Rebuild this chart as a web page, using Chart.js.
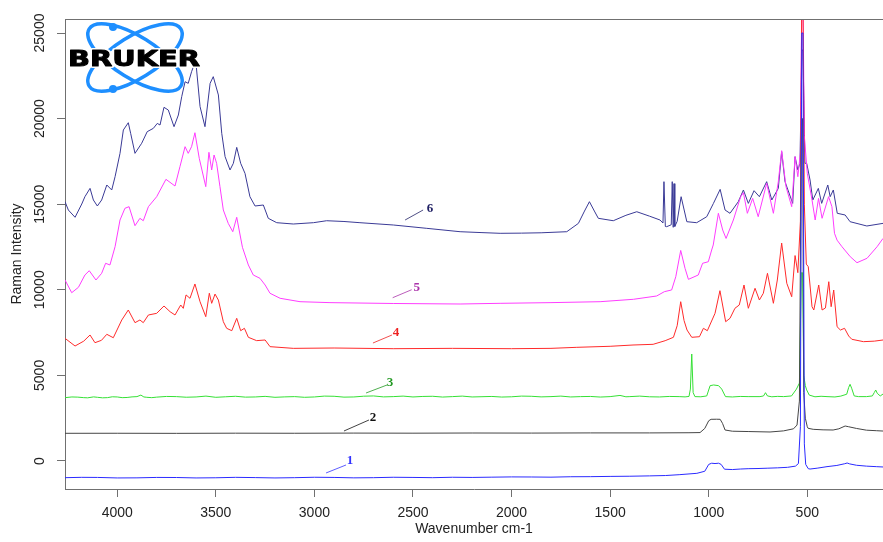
<!DOCTYPE html>
<html>
<head>
<meta charset="utf-8">
<script src="https://cdn.jsdelivr.net/npm/chart.js@4"></script>
<style>
  body { margin: 0; background: #fff; }
  #wrap { width: 883px; height: 542px; }
</style>
</head>
<body>
<div id="wrap"><canvas id="raman" width="883" height="542"></canvas></div>
<script>
// tick labels
var xTicks = [4000, 3500, 3000, 2500, 2000, 1500, 1000, 500];
var yTicks = [0, 5000, 10000, 15000, 20000, 25000];
var seriesNames = ["1", "2", "3", "4", "5", "6"];
var seriesColors = ["#2a2aff", "#454545", "#35e035", "#ff2a2a", "#ff3cff", "#3a3a96"];

// spectra as [wavenumber, intensity]
var spec1 = [[4265,-975],[4180,-955],[4100,-960],[4000,-990],[3900,-985],[3800,-960],[3700,-965],[3600,-990],
  [3500,-980],[3400,-955],[3300,-970],[3200,-990],[3100,-975],[3000,-950],[2900,-960],[2800,-985],
  [2700,-975],[2600,-950],[2500,-960],[2400,-975],[2300,-950],[2200,-960],[2100,-945],[2000,-930],[1900,-935],
  [1800,-945],[1700,-920],[1600,-915],[1500,-900],[1400,-890],[1300,-870],[1220,-850],[1150,-800],
  [1060,-720],[1020,-600],[1000,-200],[985,-130],[968,-150],[950,-130],[937,-200],[920,-480],[880,-500],
  [840,-470],[800,-450],[750,-440],[700,-420],[650,-400],[600,-370],[560,-300],[545,-150],[535,2000],[528,25000],
  [522,25000],[515,1000],[508,-200],[495,-450],[486,-470],[450,-420],[400,-330],[350,-260],[310,-160],[298,-117],
  [285,-170],[250,-250],[200,-300],[150,-330],[116,-350]];

var spec2 = [[4265,1617],[4000,1620],[3700,1615],[3400,1625],[3100,1620],[2800,1630],[2500,1625],[2200,1635],
  [1900,1630],[1600,1640],[1300,1640],[1100,1650],[1044,1660],[1020,1900],[1000,2350],[988,2435],[960,2440],
  [942,2435],[930,2200],[917,1810],[880,1740],[800,1720],[689,1694],[620,1760],[570,1880],[552,2100],
  [540,3500],[530,20000],[524,20000],[518,4000],[510,2500],[500,2000],[496,1910],[470,1850],[420,1820],
  [369,1810],[340,1880],[308,2044],[290,2000],[250,1900],[200,1800],[150,1770],[116,1750]];

var spec3 = [[4265,3700],[4230,3740],[4200,3730],[4170,3700],[4150,3690],[4120,3745],[4100,3720],[4075,3690],
  [4050,3700],[4025,3750],[4000,3740],[3975,3700],[3950,3710],[3925,3745],[3900,3760],[3880,3850],[3865,3740],
  [3850,3720],[3825,3700],[3800,3730],[3750,3770],[3700,3760],[3650,3725],[3600,3740],[3550,3790],[3500,3720],
  [3450,3750],[3400,3780],[3350,3730],[3300,3740],[3250,3775],[3200,3720],[3150,3745],[3100,3760],[3050,3720],
  [3000,3740],[2950,3790],[2900,3780],[2850,3730],[2800,3740],[2750,3785],[2700,3800],[2650,3745],[2600,3760],
  [2550,3790],[2500,3740],[2450,3770],[2400,3780],[2350,3735],[2300,3760],[2250,3790],[2200,3740],[2150,3755],
  [2100,3770],[2050,3735],[2000,3750],[1950,3790],[1900,3780],[1850,3745],[1800,3760],[1750,3790],[1700,3740],
  [1650,3760],[1600,3770],[1550,3735],[1500,3760],[1450,3830],[1420,3750],[1400,3760],[1350,3790],[1300,3750],
  [1250,3740],[1200,3770],[1150,3760],[1120,3745],[1100,3770],[1093,4200],[1086,6250],[1079,4000],[1070,3760],
  [1040,3750],[1010,3800],[993,4400],[975,4440],[950,4400],[934,4200],[915,3760],[880,3740],[840,3770],[800,3760],
  [740,3760],[722,3800],[712,3990],[702,3800],[680,3750],[650,3775],[620,3760],[580,3800],[555,4200],[540,4550],
  [530,11000],[524,11000],[518,5000],[510,4400],[503,4150],[490,3850],[461,3750],[430,3780],[400,3760],[360,3740],
  [330,3790],[300,3900],[290,4300],[283,4480],[275,4250],[262,3800],[240,3760],[200,3760],[170,3800],[160,4000],
  [153,4147],[145,3950],[130,3800],[116,3910]];

var spec4 = [[4265,7166],[4214,6717],[4170,7000],[4138,7360],[4113,6910],[4080,7050],[4053,7400],[4020,7200],
  [3977,8236],[3944,8820],[3910,8080],[3885,8236],[3868,8080],[3842,8528],[3800,8625],[3763,9054],[3732,8720],
  [3707,8528],[3678,9112],[3665,8917],[3651,9700],[3631,9503],[3606,10340],[3580,9300],[3551,8430],[3533,9800],
  [3521,9210],[3504,9750],[3487,9400],[3462,8137],[3445,7750],[3419,7611],[3394,8335],[3374,7611],[3355,7750],
  [3335,7225],[3293,7030],[3250,7068],[3225,6678],[3107,6580],[2900,6600],[2600,6560],[2300,6580],[2000,6560],
  [1800,6580],[1669,6640],[1500,6700],[1384,6775],[1282,6815],[1221,7027],[1179,7225],[1160,7900],[1142,9305],
  [1125,8200],[1110,7650],[1086,7225],[1047,7260],[1027,7750],[1007,7611],[968,8626],[943,9948],[914,8137],
  [892,8335],[867,8920],[845,9112],[821,10280],[799,8920],[765,10088],[743,9404],[723,9796],[702,10963],
  [672,9212],[652,10572],[630,12730],[604,10380],[579,9596],[562,12000],[548,11000],[535,14000],[528,27000],
  [522,27000],[515,15000],[505,11500],[495,11350],[476,9012],[467,8820],[442,10280],[425,8820],[408,8937],
  [391,10473],[379,9012],[366,9988],[349,7845],[332,7650],[311,7750],[290,7300],[274,7108],[215,6970],
  [160,7000],[116,7068]];

var spec5 = [[4265,10572],[4231,9830],[4197,10145],[4164,10864],[4142,11115],[4108,10572],[4079,10963],
  [4059,11548],[4037,11450],[4011,12517],[3986,14077],[3961,14760],[3940,14855],[3910,13744],[3885,14176],
  [3868,14035],[3842,14855],[3800,15438],[3753,16453],[3707,16063],[3682,17192],[3656,18360],[3640,17970],
  [3623,18360],[3606,19175],[3584,17680],[3551,16024],[3535,18030],[3521,17000],[3509,17873],[3496,17390],
  [3479,16024],[3462,14660],[3437,13880],[3414,13393],[3394,14235],[3365,12480],[3335,11450],[3310,10864],
  [3276,10670],[3250,10280],[3225,9796],[3174,9504],[3073,9305],[2921,9250],[2600,9200],[2261,9170],
  [2058,9210],[1800,9250],[1551,9305],[1382,9445],[1264,9638],[1225,9890],[1188,9990],[1167,10765],
  [1142,12300],[1120,11250],[1103,10610],[1053,10864],[1031,11548],[1002,11640],[985,12324],[977,12617],
  [951,14468],[929,13490],[912,13000],[875,14077],[838,15438],[824,15672],[804,14468],[777,15340],[749,14270],
  [706,16220],[672,14468],[647,16316],[630,18125],[608,16024],[579,14855],[562,17776],[548,16607],[535,18000],
  [528,27000],[522,27000],[515,19000],[500,16800],[476,15245],[460,14077],[443,15340],[425,14176],[392,15438],
  [375,14855],[362,13300],[349,12900],[324,12516],[282,11933],[248,11583],[197,11840],[146,12517],[116,13000]];

var spec6 = [[4265,15146],[4248,14660],[4214,14235],[4180,15010],[4164,15438],[4138,15925],[4121,15245],
  [4101,14895],[4079,15245],[4053,16122],[4028,15830],[4011,16607],[3986,17970],[3969,19335],[3944,19760],
  [3932,19140],[3910,17970],[3876,18560],[3848,19237],[3817,19430],[3797,19720],[3783,19625],[3763,20660],
  [3741,20500],[3712,19528],[3690,20210],[3673,21280],[3656,22155],[3640,22060],[3623,22740],[3602,23400],
  [3580,20700],[3555,19528],[3529,22060],[3521,22255],[3513,22450],[3487,21380],[3470,19140],[3453,17776],
  [3428,17000],[3411,17390],[3394,18320],[3374,17390],[3352,16800],[3327,15438],[3301,14895],[3259,14953],
  [3234,14176],[3191,13920],[3107,13843],[3005,13920],[2938,14035],[2850,13990],[2769,13920],[2600,13785],
  [2430,13590],[2261,13393],[2150,13340],[2058,13300],[1950,13310],[1850,13330],[1720,13393],[1661,13880],
  [1630,14600],[1605,15146],[1580,14600],[1560,14176],[1484,14035],[1420,14350],[1365,14560],[1300,14300],
  [1247,14077],[1232,13900],[1227,16316],[1220,13700],[1213,13687],[1190,13800],[1185,16316],[1180,13650],
  [1176,16200],[1172,13700],[1160,14000],[1140,15438],[1111,13978],[1061,13920],[1010,14270],[976,15049],
  [942,15866],[917,14660],[892,14468],[850,15146],[824,15830],[799,15049],[770,15790],[743,15438],[706,16316],
  [680,15245],[647,15925],[630,18068],[613,16316],[574,15049],[562,17776],[548,17000],[537,17390],[528,24000],
  [522,24000],[512,17390],[503,17390],[486,16413],[472,15245],[444,15925],[427,15049],[396,16122],[384,15438],
  [368,15830],[348,14468],[308,14370],[283,13978],[198,13727],[116,13880]];

var allSpectra = [spec1, spec2, spec3, spec4, spec5, spec6];

var sans = "'Liberation Sans', Arial, sans-serif";
var boxColor = "#707070";

// number tags with small leader lines, anchored in data units
var tags = [
  {w: 2941, v: -700, dx: 20, dy: -8, tx: 24, ty: -12, color: "#3333ff"},
  {w: 2850, v: 1752, dx: 25, dy: -11, tx: 29, ty: -13, color: "#111111"},
  {w: 2738, v: 3972, dx: 21, dy: -8, tx: 24, ty: -10, color: "#229922"},
  {w: 2703, v: 6892, dx: 19, dy: -8, tx: 23, ty: -10, color: "#ee2222"},
  {w: 2603, v: 9538, dx: 19, dy: -8, tx: 24, ty: -10, color: "#aa33aa"},
  {w: 2540, v: 14077, dx: 18, dy: -10, tx: 25, ty: -11, color: "#222266"}
];

var decor = {
  id: "decor",
  afterDatasetsDraw: function(chart) {
    var ctx = chart.ctx;
    var xs = chart.scales.x, ys = chart.scales.y;

    // leader lines and numbers
    ctx.save();
    ctx.font = "bold 13px 'Liberation Serif', 'Times New Roman', serif";
    ctx.textAlign = "center";
    ctx.textBaseline = "middle";
    tags.forEach(function(t, i) {
      var px = xs.getPixelForValue(t.w), py = ys.getPixelForValue(t.v);
      ctx.strokeStyle = t.color;
      ctx.lineWidth = 0.8;
      ctx.beginPath();
      ctx.moveTo(px, py);
      ctx.lineTo(px + t.dx, py + t.dy);
      ctx.stroke();
      ctx.fillStyle = t.color;
      ctx.fillText(seriesNames[i], px + t.tx, py + t.ty);
    });
    ctx.restore();

    // logo
    ctx.save();
    ctx.strokeStyle = "#1e8fff";
    ctx.fillStyle = "#1e8fff";
    ctx.lineWidth = 3.5;
    ctx.beginPath();
    ctx.ellipse(135, 57.5, 54, 21, 32 * Math.PI / 180, 0, 2 * Math.PI);
    ctx.stroke();
    ctx.beginPath();
    ctx.ellipse(135, 57.5, 54, 21, -32 * Math.PI / 180, 0, 2 * Math.PI);
    ctx.stroke();
    ctx.beginPath(); ctx.arc(113, 27, 4, 0, 2 * Math.PI); ctx.fill();
    ctx.beginPath(); ctx.arc(113, 89, 4, 0, 2 * Math.PI); ctx.fill();
    ctx.font = "bold 22px 'DejaVu Sans', sans-serif";
    var tw = ctx.measureText("BRUKER").width;
    ctx.translate(68, 66);
    ctx.scale(132 / tw, 1);
    ctx.lineJoin = "round";
    ctx.strokeStyle = "#ffffff";
    ctx.lineWidth = 4;
    ctx.strokeText("BRUKER", 0, 0);
    ctx.fillStyle = "#000000";
    ctx.fillText("BRUKER", 0, 0);
    ctx.lineWidth = 1;
    ctx.strokeStyle = "#000000";
    ctx.strokeText("BRUKER", 0, 0);
    ctx.restore();
  },
  afterDraw: function(chart) {
    var ctx = chart.ctx;
    var ys = chart.scales.y;
    var area = chart.chartArea;
    ctx.save();
    // top edge of the box
    ctx.strokeStyle = boxColor;
    ctx.lineWidth = 1;
    ctx.beginPath();
    ctx.moveTo(area.left, area.top + 0.5);
    ctx.lineTo(area.right, area.top + 0.5);
    ctx.stroke();
    // y tick labels, turned like the original
    ctx.fillStyle = "#222222";
    ctx.font = "14px " + sans;
    ctx.textAlign = "center";
    ctx.textBaseline = "middle";
    yTicks.forEach(function(v) {
      var py = ys.getPixelForValue(v);
      ctx.save();
      ctx.translate(40, py);
      ctx.rotate(-Math.PI / 2);
      ctx.fillText(String(v), 0, 0);
      ctx.restore();
    });
    ctx.restore();
  }
};

new Chart(document.getElementById("raman"), {
  type: "line",
  data: {
    datasets: allSpectra.map(function(s, i) {
      return {
        label: seriesNames[i],
        data: s.map(function(p) { return {x: p[0], y: p[1]}; }),
        borderColor: seriesColors[i],
        borderWidth: 1,
        pointRadius: 0,
        tension: 0,
        fill: false
      };
    })
  },
  options: {
    responsive: false,
    animation: false,
    devicePixelRatio: 1,
    layout: { padding: { top: 19, left: 0, right: 0, bottom: 0 } },
    plugins: { legend: { display: false }, title: { display: false }, tooltip: { enabled: false } },
    scales: {
      x: {
        type: "linear",
        reverse: true,
        min: 116,
        max: 4265,
        afterBuildTicks: function(s) { s.ticks = xTicks.map(function(v) { return {value: v}; }); },
        afterFit: function(s) { s.height = 53; },
        grid: { drawOnChartArea: false, drawTicks: true, tickLength: 8, color: boxColor },
        border: { display: true, color: boxColor, width: 1 },
        ticks: {
          color: "#222222", font: { size: 14, family: sans }, padding: 8, maxRotation: 0, autoSkip: false,
          callback: function(v) { return String(v); }
        },
        title: { display: true, text: "Wavenumber cm-1", color: "#222222", font: { size: 14, family: sans }, padding: { top: 0, bottom: 4 } }
      },
      y: {
        type: "linear",
        min: -1636,
        max: 25818,
        afterBuildTicks: function(s) { s.ticks = yTicks.map(function(v) { return {value: v}; }); },
        afterFit: function(s) { s.width = 65; },
        grid: { drawOnChartArea: false, drawTicks: true, tickLength: 8, color: boxColor },
        border: { display: true, color: boxColor, width: 1 },
        ticks: { display: false },
        title: { display: true, text: "Raman Intensity", color: "#222222", font: { size: 14, family: sans }, padding: { top: 9, bottom: 0 } }
      }
    }
  },
  plugins: [decor]
});
</script>
</body>
</html>
